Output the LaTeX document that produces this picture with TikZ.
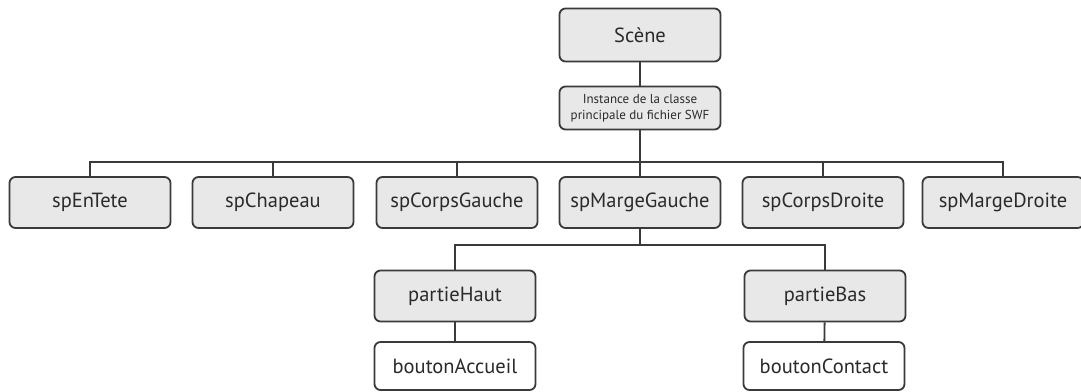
\documentclass[tikz,border=0pt]{standalone}
\usepackage{fontspec}
\setmainfont{PT Sans}
\begin{document}
\begin{tikzpicture}[x=1pt,y=-1pt,
  box/.style={draw=edge,line width=1.8pt,rounded corners=6pt,minimum width=161pt,
    minimum height=51pt,inner sep=0pt,font=\fontsize{20.5}{23}\selectfont,text=txt},
  grey/.style={box,fill=boxfill},
  white/.style={box,fill=white,minimum height=48pt},
  link/.style={draw=edge,line width=1.8pt}]
\definecolor{edge}{HTML}{3A3A3A}
\definecolor{boxfill}{HTML}{E8E8E8}
\definecolor{txt}{HTML}{2A2A2A}
\useasboundingbox (0,0) rectangle (1081,391);
% root and main instance
\node[grey,minimum height=53pt] (scene) at (640,35) {Scène};
\node[grey,minimum height=43pt,align=center,font=\fontsize{13}{15.5}\selectfont] (inst) at (640,108)
  {Instance de la classe\\principale du fichier SWF};
% display containers
\node[grey] (t1) at (90,202.5) {spEnTete};
\node[grey] (t2) at (273,202.5) {spChapeau};
\node[grey] (t3) at (457,202.5) {spCorpsGauche};
\node[grey] (t4) at (640,202.5) {spMargeGauche};
\node[grey] (t5) at (823,202.5) {spCorpsDroite};
\node[grey] (t6) at (1003,202.5) {spMargeDroite};
% children of spMargeGauche
\node[grey] (ph) at (455,296) {partieHaut};
\node[grey] (pb) at (825,296) {partieBas};
\node[white] (ba) at (455,366) {boutonAccueil};
\node[white] (bc) at (824,366) {boutonContact};
% connectors
\draw[link] (scene) -- (inst);
\coordinate (bus) at (640,162);
\draw[link] (inst) -- (t4);
\draw[link] (t1.north) |- (bus) -| (t6.north);
\foreach \n in {t2,t3,t5} \draw[link] (\n.north) -- (\n.north |- bus);
\coordinate (bus2) at (640,245);
\draw[link] (t4) -- (bus2);
\draw[link] (ph.north) |- (bus2) -| (pb.north);
\draw[link] (ph) -- (ba);
\draw[link] (pb) -- (bc);
\end{tikzpicture}
\end{document}
